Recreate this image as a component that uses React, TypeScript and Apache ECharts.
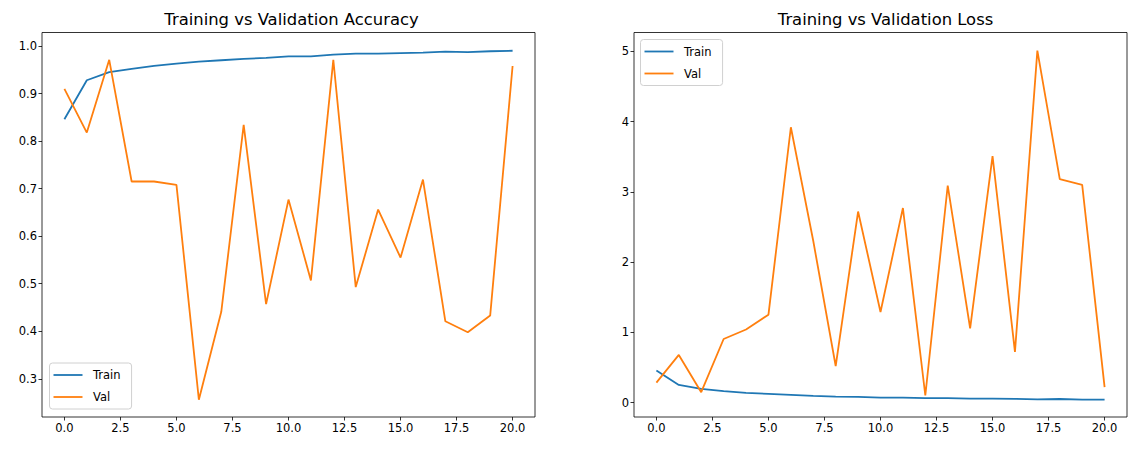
import React, { useEffect, useRef } from "react";
import * as echarts from "echarts";

const epochs = [0, 1, 2, 3, 4, 5, 6, 7, 8, 9, 10, 11, 12, 13, 14, 15, 16, 17, 18, 19, 20];

const accTrain = [0.846, 0.928, 0.945, 0.952, 0.958, 0.963, 0.967, 0.970, 0.973, 0.975, 0.978, 0.978, 0.982, 0.984, 0.984, 0.985, 0.986, 0.988, 0.987, 0.989, 0.990];
const accVal = [0.910, 0.818, 0.971, 0.715, 0.715, 0.708, 0.256, 0.441, 0.834, 0.457, 0.677, 0.507, 0.971, 0.493, 0.656, 0.555, 0.719, 0.421, 0.398, 0.433, 0.958];

const lossTrain = [0.455, 0.250, 0.194, 0.161, 0.137, 0.123, 0.109, 0.095, 0.085, 0.080, 0.071, 0.071, 0.062, 0.062, 0.057, 0.057, 0.052, 0.045, 0.050, 0.042, 0.040];
const lossVal = [0.284, 0.678, 0.147, 0.905, 1.040, 1.251, 3.920, 2.300, 0.520, 2.720, 1.290, 2.770, 0.100, 3.090, 1.057, 3.510, 0.720, 5.010, 3.180, 3.100, 0.220];

const xTicks = [0, 2.5, 5, 7.5, 10, 12.5, 15, 17.5, 20];
const accTicks = [0.3, 0.4, 0.5, 0.6, 0.7, 0.8, 0.9, 1.0];
const lossTicks = [0, 1, 2, 3, 4, 5];

const titles = ["Training vs Validation Accuracy", "Training vs Validation Loss"];
const seriesNames = ["Train", "Val"];
const colors = ["#1f77b4", "#ff7f0e"];

const FONT = "DejaVu Sans";

function pairs(ys: number[]) {
  return epochs.map((x, i) => [x, ys[i]]);
}

export default function App() {
  const ref = useRef<HTMLDivElement>(null);
  useEffect(() => {
    if (!ref.current) return;
    const chart = echarts.init(ref.current, null, { renderer: "svg" });
    const gridL = { left: 42, top: 32.5, width: 493, height: 384.5 };
    const gridR = { left: 634, top: 32.5, width: 493, height: 384.5 };
    const axisCommon = {
      type: "value" as const,
      axisLine: { show: false, onZero: false },
      axisTick: { show: true, inside: false, length: 3.5, lineStyle: { color: "#000", width: 0.8 } },
      axisLabel: { color: "#000", fontFamily: FONT, fontSize: 11.5, margin: 5 },
      splitLine: { show: false },
    };
    const xAxis = (gi: number) => ({
      ...axisCommon,
      gridIndex: gi,
      position: "bottom",
      min: -1,
      max: 21,
      axisTick: { ...axisCommon.axisTick, customValues: xTicks },
      axisLabel: { ...axisCommon.axisLabel, customValues: xTicks, formatter: (v: number) => v.toFixed(1) },
    });
    const legendCommon = {
      data: seriesNames,
      orient: "vertical",
      icon: "rect",
      itemWidth: 29,
      itemHeight: 1.8,
      itemGap: 8,
      padding: [5, 11, 5, 4],
      borderColor: "#d0d0d0",
      borderWidth: 1,
      borderRadius: 3,
      backgroundColor: "rgba(255,255,255,0.8)",
      textStyle: { fontFamily: FONT, fontSize: 11.5, color: "#000", padding: [0, 0, 0, 5.5], lineHeight: 14 },
      selectedMode: false,
    };
    const titleStyle = { fontFamily: FONT, fontSize: 16.4, fontWeight: "normal", color: "#000" };
    chart.setOption({
      animation: false,
      color: colors,
      title: [
        { text: titles[0], left: 42 + 244.5, top: 6, textAlign: "center", textStyle: titleStyle },
        { text: titles[1], left: 634 + 246.5, top: 6, textAlign: "center", textStyle: titleStyle },
      ],
      grid: [
        { ...gridL, show: true, borderColor: "#000", borderWidth: 0.8, backgroundColor: "transparent" },
        { ...gridR, show: true, borderColor: "#000", borderWidth: 0.8, backgroundColor: "transparent" },
      ],
      xAxis: [xAxis(0), xAxis(1)],
      yAxis: [
        {
          ...axisCommon,
          gridIndex: 0,
          position: "left",
          min: 0.2197,
          max: 1.0284,
          axisTick: { ...axisCommon.axisTick, customValues: accTicks },
          axisLabel: { ...axisCommon.axisLabel, customValues: accTicks, formatter: (v: number) => v.toFixed(1) },
        },
        {
          ...axisCommon,
          gridIndex: 1,
          position: "left",
          min: -0.206,
          max: 5.269,
          axisTick: { ...axisCommon.axisTick, customValues: lossTicks },
          axisLabel: { ...axisCommon.axisLabel, customValues: lossTicks, formatter: (v: number) => String(Math.round(v)) },
        },
      ],
      legend: [
        { ...legendCommon, left: 49.5, top: 363 },
        { ...legendCommon, left: 640.5, top: 39.5 },
      ],
      series: [
        { name: seriesNames[0], type: "line", xAxisIndex: 0, yAxisIndex: 0, data: pairs(accTrain), symbol: "none", lineStyle: { width: 1.8, color: colors[0] }, itemStyle: { color: colors[0] } },
        { name: seriesNames[1], type: "line", xAxisIndex: 0, yAxisIndex: 0, data: pairs(accVal), symbol: "none", lineStyle: { width: 1.8, color: colors[1] }, itemStyle: { color: colors[1] } },
        { name: seriesNames[0], type: "line", xAxisIndex: 1, yAxisIndex: 1, data: pairs(lossTrain), symbol: "none", lineStyle: { width: 1.8, color: colors[0] }, itemStyle: { color: colors[0] } },
        { name: seriesNames[1], type: "line", xAxisIndex: 1, yAxisIndex: 1, data: pairs(lossVal), symbol: "none", lineStyle: { width: 1.8, color: colors[1] }, itemStyle: { color: colors[1] } },
      ],
    });
    return () => chart.dispose();
  }, []);
  return <div ref={ref} style={{ position: "fixed", left: 0, top: 0, width: 1136, height: 451, background: "#fff" }} />;
}
